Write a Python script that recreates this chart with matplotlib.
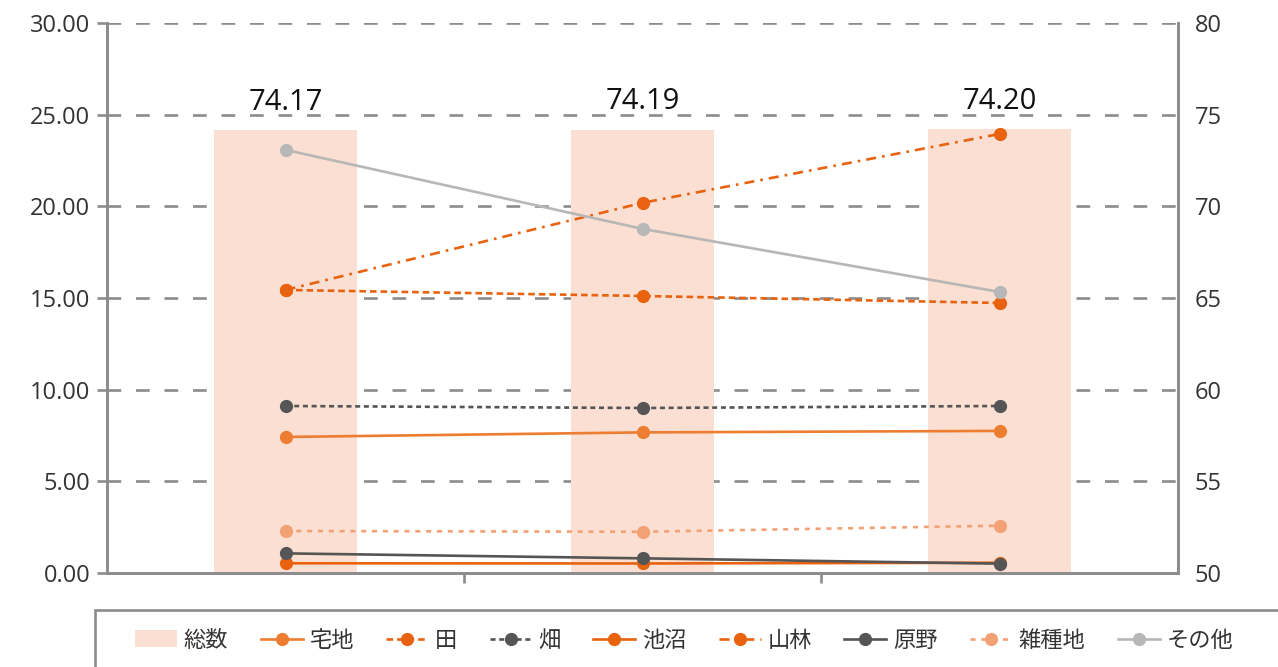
import matplotlib
matplotlib.use("Agg")
import matplotlib.pyplot as plt
from matplotlib.lines import Line2D
from matplotlib.patches import Patch, Rectangle

plt.rcParams["font.family"] = ["Open Sans", "Noto Sans CJK JP", "DejaVu Sans"]

# data
categories = ["A", "B", "C"]
total = [74.17, 74.19, 74.20]          # 総数 (right axis)
takuchi = [7.42, 7.67, 7.75]           # 宅地
ta = [15.44, 15.11, 14.73]             # 田
hata = [9.11, 9.00, 9.11]              # 畑
chisho = [0.53, 0.52, 0.56]            # 池沼
sanrin = [15.44, 20.19, 23.95]         # 山林
genya = [1.07, 0.80, 0.51]             # 原野
zasshu = [2.29, 2.25, 2.58]            # 雑種地
sonota = [23.08, 18.77, 15.33]         # その他

ORANGE = "#ED7D31"
DARK_OR = "#E8620F"
GREY = "#555555"
LIGHT_OR = "#F2A174"
SILVER = "#B7B7B7"
BAR = "#FADFD2"
AXIS = "#8C8C8C"
LW = 1.9

series = [
    ("宅地", takuchi, ORANGE, "-"),
    ("田", ta, DARK_OR, (0, (2.5, 1.5))),
    ("畑", hata, GREY, (0, (1.9, 1.4))),
    ("池沼", chisho, DARK_OR, "-"),
    ("山林", sanrin, DARK_OR, (0, (3.8, 2.3, 1.0, 2.3))),
    ("原野", genya, GREY, "-"),
    ("雑種地", zasshu, LIGHT_OR, (0, (1.9, 2.2))),
    ("その他", sonota, SILVER, "-"),
]

fig = plt.figure(figsize=(12.78, 6.67), dpi=100)
ax2 = fig.add_axes([107 / 1278, 1 - 573 / 667, 1071 / 1278, 550 / 667])
ax = ax2.twinx()
# bars go on the right-hand axis, lines on the left-hand axis
ax2.yaxis.tick_right()
ax.yaxis.tick_left()

x = list(range(len(categories)))
ax2.bar(x, total, width=0.4, color=BAR, zorder=2)
ax2.set_ylim(50, 80)
ax2.set_yticks(range(50, 81, 5))
for xi, v in zip(x, total):
    ax2.annotate(f"{v:.2f}", (xi, v), xytext=(0, 20), textcoords="offset points",
                 ha="center", va="center", fontsize=21, color="#111111")

# grid behind bars
for yv in range(55, 81, 5):
    ax2.axhline(yv, color=AXIS, lw=1.9, ls=(0, (5.2, 5.6)), zorder=1)

for name, vals, col, ls in series:
    ax.plot(x, vals, color=col, ls=ls, lw=LW, marker="o", ms=8.5, zorder=3)

ax.set_ylim(0, 30)
ax.set_yticks(range(0, 31, 5))
ax.set_yticklabels([f"{v:.2f}" for v in range(0, 31, 5)])
ax.set_xlim(-0.5, 2.5)
ax.set_xticks([0.5, 1.5])
ax.set_xticklabels([])

for a in (ax, ax2):
    a.spines["top"].set_visible(False)
    for s in ("left", "right", "bottom"):
        a.spines[s].set_color(AXIS)
        a.spines[s].set_linewidth(1.9)
    a.tick_params(axis="both", colors=AXIS, width=1.9, length=7, labelsize=17,
                  labelcolor="#333333")
ax.patch.set_visible(False)
ax.tick_params(axis="y", length=7, pad=5)
ax2.tick_params(axis="y", length=0, pad=12)

# legend frame runs off the right and bottom edges
fig.patches.append(Rectangle((95 / 1278, -0.05), 1.0, 0.05 + 1 - 610 / 667,
                             transform=fig.transFigure, fill=False,
                             edgecolor=AXIS, lw=1.9))
handles = [Patch(facecolor=BAR, edgecolor="none")]
labels = ["総数"]
for name, vals, col, ls in series:
    handles.append(Line2D([], [], color=col, ls=ls, lw=LW, marker="o", ms=8.5))
    labels.append(name)
leg = fig.legend(handles, labels, loc="center left", ncol=9,
                 bbox_to_anchor=(135 / 1278, 1 - 641 / 667),
                 frameon=False, fontsize=16,
                 handlelength=1.9, handleheight=0.8, handletextpad=0.3,
                 columnspacing=1.45, borderpad=0, borderaxespad=0)
for t in leg.get_texts():
    t.set_color("#333333")

fig.savefig("out.png", dpi=100)
